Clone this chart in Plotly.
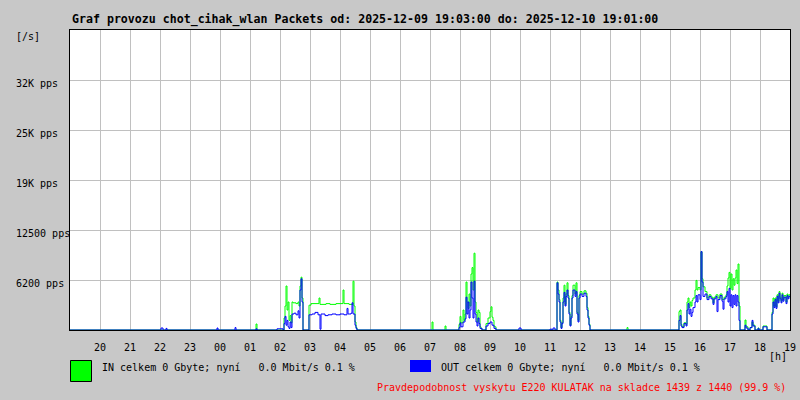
import plotly.graph_objects as go

TITLE = "Graf provozu chot_cihak_wlan Packets od: 2025-12-09 19:03:00 do: 2025-12-10 19:01:00"

y_tick_vals = [6250, 12500, 18750, 25000, 31250]
y_tick_text = ["6200 pps", "12500 pps", "19K pps", "25K pps", "32K pps"]
x_hours = ["20", "21", "22", "23", "00", "01", "02", "03", "04", "05", "06", "07",
           "08", "09", "10", "11", "12", "13", "14", "15", "16", "17", "18", "19"]

in_times = ["19:00", "01:12", "01:14", "02:08", "02:10", "02:12", "02:14", "02:16", "02:18", "02:20",
            "02:22", "02:24", "02:26", "02:32", "02:36", "02:38", "02:40", "02:42", "02:44", "02:46",
            "02:58", "03:02", "03:18", "03:20", "03:32", "03:40", "03:52", "04:06", "04:08", "04:18",
            "04:26", "04:28", "04:30", "04:32", "04:34", "07:04", "07:06", "07:30", "07:32", "07:58",
            "08:00", "08:02", "08:06", "08:08", "08:10", "08:12", "08:14", "08:16", "08:18", "08:20",
            "08:22", "08:24", "08:26", "08:28", "08:30", "08:32", "08:34", "08:36", "08:38", "08:40",
            "08:42", "08:44", "08:52", "08:56", "09:00", "09:02", "09:04", "09:06", "09:08", "09:12",
            "11:14", "11:16", "11:18", "11:20", "11:22", "11:24", "11:26", "11:28", "11:30", "11:32",
            "11:34", "11:36", "11:38", "11:40", "11:42", "11:44", "11:46", "11:50", "11:52", "11:54",
            "11:56", "11:58", "12:00", "12:04", "12:08", "12:12", "12:14", "12:16", "12:18", "12:20",
            "13:34", "13:36", "15:18", "15:20", "15:22", "15:24", "15:28", "15:32", "15:34", "15:36",
            "15:38", "15:40", "15:42", "15:44", "15:46", "15:50", "15:52", "15:54", "15:56", "16:00",
            "16:02", "16:04", "16:06", "16:10", "16:14", "16:18", "16:22", "16:26", "16:28", "16:32",
            "16:36", "16:40", "16:44", "16:48", "16:52", "16:54", "16:56", "16:58", "17:00", "17:02",
            "17:04", "17:06", "17:08", "17:10", "17:12", "17:14", "17:16", "17:18", "17:20", "17:30",
            "17:32", "17:36", "17:40", "17:44", "17:46", "17:50", "17:56", "17:58", "18:06", "18:14",
            "18:24", "18:26", "18:28", "18:30", "18:32", "18:34", "18:36", "18:38", "18:40", "18:42",
            "18:44", "18:46", "18:48", "18:52", "18:54", "18:56", "18:58", "19:00"]
in_vals = [0, 750, 0, 1500, 3000, 5500, 2500, 3500, 1200, 1800,
           900, 3500, 3400, 3300, 3500, 3000, 5500, 6600, 4000, 0,
           3100, 3300, 4000, 3200, 3300, 3200, 3300, 5000, 3300, 3200,
           6100, 3000, 1000, 300, 0, 1000, 0, 500, 0, 700,
           1700, 900, 2500, 1200, 2000, 6000, 3500, 2700, 4500, 3000,
           7000, 7800, 5000, 9600, 3500, 2200, 1000, 2500, 2200, 400,
           200, 0, 800, 1500, 2300, 2900, 1600, 1200, 400, 0,
           6000, 5000, 3800, 1200, 300, 900, 4000, 5600, 3200, 4500,
           5900, 4300, 2200, 600, 1700, 4300, 5600, 4500, 5900, 2200,
           1200, 4300, 4800, 4500, 4900, 4600, 2800, 1700, 700, 0,
           300, 0, 2300, 2500, 700, 400, 900, 700, 3500, 4000,
           2800, 3500, 3000, 3700, 4000, 5000, 6200, 5000, 5300, 5000,
           9800, 6400, 5400, 4800, 4000, 4400, 4100, 3400, 4100, 4400,
           4000, 4500, 3800, 4100, 4400, 5500, 6500, 7200, 5200, 7000,
           5000, 6400, 5600, 6500, 7500, 5800, 8250, 3000, 0, 1250,
           400, 0, 300, 1000, 600, 0, 250, 0, 500, 0,
           2200, 4000, 3000, 4000, 2900, 4400, 3600, 4800, 4100, 3600,
           4600, 3800, 4300, 3500, 4500, 4100, 4400, 4400]

out_times = ["19:00", "22:02", "22:06", "22:12", "22:14", "23:54", "23:56", "00:30", "00:32", "01:12",
             "01:14", "01:54", "02:06", "02:08", "02:10", "02:12", "02:14", "02:16", "02:18", "02:20",
             "02:22", "02:24", "02:28", "02:32", "02:36", "02:38", "02:40", "02:42", "02:44", "02:46",
             "02:58", "03:04", "03:10", "03:16", "03:20", "03:22", "03:30", "03:36", "03:44", "03:52",
             "04:00", "04:08", "04:14", "04:16", "04:22", "04:24", "04:26", "04:30", "04:32", "04:34",
             "07:58", "08:00", "08:02", "08:06", "08:10", "08:12", "08:14", "08:16", "08:18", "08:20",
             "08:22", "08:24", "08:26", "08:28", "08:30", "08:32", "08:34", "08:36", "08:38", "08:40",
             "08:44", "08:52", "08:56", "09:00", "09:04", "09:08", "09:12", "09:58", "10:02", "11:00",
             "11:04", "11:06", "11:10", "11:14", "11:16", "11:18", "11:20", "11:22", "11:24", "11:26",
             "11:28", "11:30", "11:32", "11:34", "11:36", "11:38", "11:40", "11:42", "11:44", "11:46",
             "11:50", "11:52", "11:54", "11:56", "11:58", "12:00", "12:04", "12:08", "12:12", "12:14",
             "12:16", "12:18", "12:20", "15:18", "15:20", "15:22", "15:24", "15:28", "15:32", "15:34",
             "15:36", "15:38", "15:40", "15:42", "15:44", "15:46", "15:50", "15:52", "15:54", "15:56",
             "16:00", "16:02", "16:04", "16:06", "16:10", "16:14", "16:18", "16:22", "16:26", "16:28",
             "16:32", "16:34", "16:36", "16:40", "16:44", "16:46", "16:48", "16:52", "16:54", "16:56",
             "16:58", "17:00", "17:02", "17:04", "17:06", "17:08", "17:10", "17:12", "17:14", "17:16",
             "17:18", "17:20", "17:30", "17:32", "17:36", "17:40", "17:44", "17:46", "17:50", "17:56",
             "17:58", "18:06", "18:14", "18:24", "18:26", "18:28", "18:30", "18:32", "18:34", "18:36",
             "18:38", "18:40", "18:42", "18:44", "18:46", "18:48", "18:52", "18:54", "18:56", "18:58",
             "19:00"]
out_vals = [0, 250, 0, 200, 0, 250, 0, 300, 0, 150,
            0, 150, 0, 800, 1700, 600, 1200, 400, 200, 1000,
            300, 2000, 2100, 1900, 2400, 1500, 5000, 6400, 3500, 0,
            1900, 2000, 2200, 1900, 100, 2000, 1800, 1900, 2000, 1900,
            2000, 1900, 2700, 2000, 2100, 3400, 2000, 600, 200, 0,
            300, 900, 400, 1000, 1400, 4100, 2000, 3500, 1500, 2500,
            6000, 4000, 1500, 6100, 2000, 1000, 500, 1500, 800, 200,
            0, 500, 800, 1000, 600, 200, 0, 250, 0, 100,
            0, 250, 0, 5900, 4500, 3500, 1000, 200, 800, 3500,
            4700, 3000, 4200, 5000, 4000, 2000, 500, 1500, 4000, 5000,
            4200, 4800, 2000, 1000, 4000, 4500, 4200, 4600, 4200, 2500,
            1500, 600, 0, 1200, 1800, 500, 300, 800, 500, 2500,
            3300, 2000, 2600, 1700, 2200, 2800, 3500, 4300, 3500, 4400,
            3800, 9800, 6000, 4200, 4500, 3800, 4200, 3900, 3200, 3900,
            4200, 2300, 3800, 4300, 3600, 2600, 3900, 4200, 4800, 3500,
            5200, 3000, 4400, 2800, 4300, 3200, 4400, 3000, 4300, 3500,
            1200, 0, 600, 250, 0, 300, 1200, 500, 0, 200,
            0, 400, 0, 2000, 3500, 2800, 3800, 2700, 4200, 3400,
            4600, 3900, 3400, 4400, 3600, 4100, 3300, 4300, 3900, 4200,
            4200]

legend_in = "IN celkem 0 Gbyte; nyní   0.0 Mbit/s 0.1 %"
legend_out = "OUT celkem 0 Gbyte; nyní   0.0 Mbit/s 0.1 %"
note_text = "Pravdepodobnost vyskytu E220 KULATAK na skladce 1439 z 1440 (99.9 %)"


def to_dt(times):
    out, day, prev = [], 9, None
    for t in times:
        h, m = map(int, t.split(":"))
        mins = h * 60 + m
        if prev is not None and mins < prev and day == 9:
            day = 10
        prev = mins
        out.append(f"2025-12-{day:02d} {h:02d}:{m:02d}:00")
    return out


x_tick_vals = to_dt([h + ":00" for h in ["19"] + x_hours])[1:]

# plot area in pixels: x 70..790, y 30..330
PL, PR, PT, PB = 70, 790, 30, 330


def px(x):
    return (x - PL) / (PR - PL)


def py(y):
    return (PB - y) / (PB - PT)


MONO = "DejaVu Sans Mono"
fig = go.Figure()
fig.add_trace(go.Scatter(x=to_dt(in_times), y=in_vals, mode="lines", line=dict(color="#00ff00", width=1, shape="hv"),
                         name="IN", hoverinfo="skip"))
fig.add_trace(go.Scatter(x=to_dt(out_times), y=out_vals, mode="lines", line=dict(color="#0000ff", width=1, shape="hv"),
                         name="OUT", hoverinfo="skip"))

annotations = [
    dict(text="<b>" + TITLE + "</b>", x=px(70), y=py(19), xref="paper", yref="paper", xanchor="left",
         yanchor="middle", showarrow=False, font=dict(family=MONO, size=11.6, color="black")),
    dict(text="[/s]", x=px(14), y=py(37), xref="paper", yref="paper", xanchor="left", yanchor="middle",
         showarrow=False, font=dict(family=MONO, size=10, color="black")),
    dict(text="[h]", x=px(778), y=py(356), xref="paper", yref="paper", xanchor="center", yanchor="middle",
         showarrow=False, font=dict(family=MONO, size=10, color="black")),
    dict(text=legend_in.replace(" ", "\u00a0"), x=px(100), y=py(367), xref="paper", yref="paper",
         xanchor="left", yanchor="middle", showarrow=False, font=dict(family=MONO, size=10, color="black")),
    dict(text=legend_out.replace(" ", "\u00a0"), x=px(439), y=py(367), xref="paper", yref="paper",
         xanchor="left", yanchor="middle", showarrow=False, font=dict(family=MONO, size=10, color="black")),
    dict(text=note_text, x=px(788), y=py(387), xref="paper", yref="paper", xanchor="right", yanchor="middle",
         showarrow=False, font=dict(family=MONO, size=10, color="#ff0000")),
]
for v, t in zip(y_tick_vals, y_tick_text):
    annotations.append(dict(text=t, x=px(14), y=v, xref="paper", yref="y", xanchor="left", yanchor="middle",
                            yshift=-3, showarrow=False, font=dict(family=MONO, size=10, color="black")))

shapes = [
    dict(type="rect", xref="paper", yref="paper", x0=px(70.5), x1=px(91.5), y0=py(381.5), y1=py(360.5),
         fillcolor="#00ff00", line=dict(color="black", width=1)),
    dict(type="rect", xref="paper", yref="paper", x0=px(410), x1=px(431), y0=py(372), y1=py(360),
         fillcolor="#0000ff", line=dict(width=0)),
]

fig.update_layout(
    width=800, height=400,
    margin=dict(l=PL, r=800 - PR, t=PT, b=400 - PB, pad=0),
    paper_bgcolor="#c8c8c8", plot_bgcolor="white",
    showlegend=False,
    annotations=annotations, shapes=shapes,
    xaxis=dict(type="date", range=["2025-12-09 19:00:00", "2025-12-10 19:00:00"],
               tickvals=x_tick_vals, ticktext=x_hours, showgrid=True, gridcolor="#c0c0c0", gridwidth=1,
               showline=True, linecolor="black", linewidth=1, mirror=True, ticks="", ticklabelstandoff=8,
               tickfont=dict(family=MONO, size=10, color="black"), zeroline=False, fixedrange=True,
               automargin=False),
    yaxis=dict(range=[0, 37500], tickvals=y_tick_vals, showticklabels=False, showgrid=True,
               gridcolor="#c0c0c0", gridwidth=1, showline=True, linecolor="black", linewidth=1, mirror=True,
               ticks="", zeroline=False, fixedrange=True, automargin=False),
)

fig.write_html("out.html", config={"displayModeBar": False},
               post_script="document.body.style.margin='0';document.body.style.background='#c8c8c8';")
